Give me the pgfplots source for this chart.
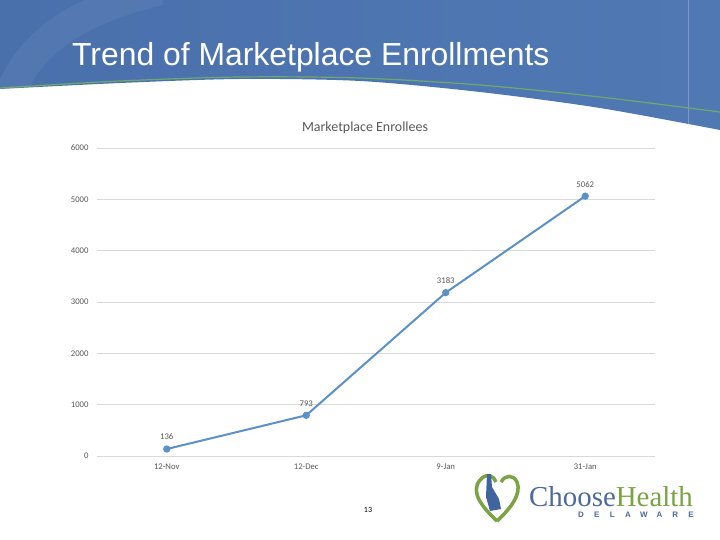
\documentclass[border=0pt]{standalone}
\usepackage{fontspec}
\setmainfont{Carlito}
\newfontfamily\arialfont{Liberation Sans}
\newfontfamily\logofont{Liberation Serif}
\usepackage{pgfplots}
\pgfplotsset{compat=1.18}

\definecolor{hdrL}{HTML}{4A70AC}
\definecolor{hdrR}{HTML}{5079B4}
\definecolor{swoosh}{HTML}{6FA86C}
\definecolor{linecol}{HTML}{5B90C9}
\definecolor{txtgray}{HTML}{595959}
\definecolor{gridgray}{HTML}{D9D9D9}
\definecolor{logoblue}{HTML}{4C6A9E}
\definecolor{logogreen}{HTML}{7AA443}
\definecolor{stateblue}{HTML}{3F64A0}

\begin{document}
\begin{tikzpicture}[x=1bp,y=-1bp]
% page
\useasboundingbox (0,0) rectangle (720,540);
\fill[white] (0,0) rectangle (720,540);
\begin{scope}
\clip (0,0) rectangle (720,540);
% slide header
\shade[left color=hdrL, right color=hdrR]
  (0,0) -- (720,0) -- (720,130) --
  plot[smooth] coordinates {(720,130)(600,108)(480,92)(360,81)(240,79)(120,83)(0,89)} -- cycle;
\draw[white, opacity=0.25, line width=1bp] (688,0) -- (688,126);
\draw[white, opacity=0.05, line width=30bp] (10,95) .. controls (30,40) and (80,10) .. (160,-10);
\draw[swoosh, line width=1.2bp]
  plot[smooth] coordinates {(0,88)(120,81)(240,77)(360,78)(480,85)(600,97)(720,112)};
\end{scope}
\node[anchor=base west, inner sep=0, text=white, font=\arialfont\fontsize{32}{36}\selectfont]
  at (72,66) {Trend of Marketplace Enrollments};

% chart title
\node[text=txtgray, font=\fontsize{14}{16}\selectfont] at (365,128) {Marketplace Enrollees};

\coordinate (axSW) at (97,456);
\begin{axis}[
    at={(axSW)}, anchor=south west,
    scale only axis,
    width=558bp, height=308bp,
    xmin=-0.5, xmax=3.5,
    ymin=0, ymax=6000,
    xtick={0,1,2,3},
    xticklabels={12-Nov,12-Dec,9-Jan,31-Jan},
    ytick={0,1000,2000,3000,4000,5000,6000},
    scaled y ticks=false,
    /pgf/number format/1000 sep={},
    /pgf/number format/assume math mode=true,
    major tick length=0pt,
    axis line style={draw=none},
    ymajorgrids=true,
    grid style={gridgray, line width=0.8bp},
    tick label style={text=txtgray, font=\fontsize{8.7}{10}\selectfont},
    xticklabel style={yshift=-4bp},
    yticklabel style={xshift=-5bp},
    clip=false,
]
\addplot[
    color=linecol,
    line width=2bp,
    mark=*,
    mark size=2.6bp,
    mark options={fill=linecol, draw=linecol},
    nodes near coords,
    nodes near coords style={text=txtgray, font=\fontsize{8.7}{10}\selectfont,
        anchor=south, inner sep=0pt, yshift=8bp},
    ]
    coordinates {
    (0,136)(1,793)(2,3183)(3,5062)
    };
\end{axis}

% page number
\node[font=\fontsize{8}{9}\selectfont] at (368,510) {13};

% logo
\draw[logogreen, line width=3.5bp, line join=round]
  (497,521) .. controls (482,507) and (470,492) .. (480,480)
  .. controls (487,472) and (494,476) .. (496,482);
\draw[logogreen, line width=3.5bp, line join=round]
  (497,521) .. controls (510,509) and (522,494) .. (517,482)
  .. controls (513,474) and (505,475) .. (501,482);
\fill[stateblue]
  (487,474) -- (491,474) -- (492,487) -- (499,499) -- (501,509) -- (490,511) -- (486,497) -- cycle;
\node[anchor=base west, inner sep=0, font=\logofont\fontsize{29}{30}\selectfont]
  at (529,506) {\textcolor{logoblue}{Choose}\textcolor{logogreen}{Health}};
\foreach \ch [count=\i from 0] in {D,E,L,A,W,A,R,E}
  \node[text=logoblue, font=\arialfont\bfseries\fontsize{8}{9}\selectfont]
    at (581+15.7*\i,515) {\ch};
\end{tikzpicture}
\end{document}
